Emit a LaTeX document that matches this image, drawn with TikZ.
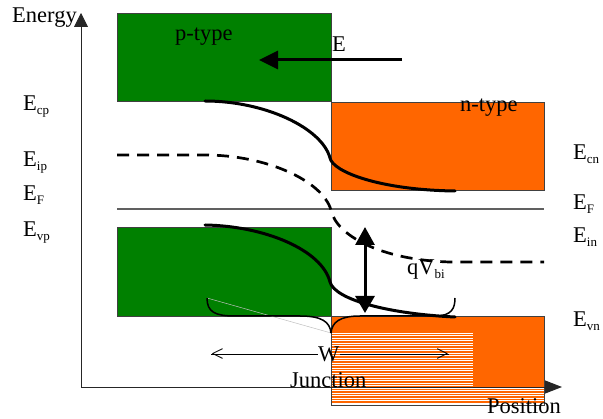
\documentclass[tikz,border=0pt]{standalone}
\usepackage{fontspec}
\setmainfont{Liberation Serif}
\usetikzlibrary{arrows.meta}
\definecolor{pgreen}{RGB}{0,128,0}
\definecolor{norange}{RGB}{255,102,0}
\definecolor{edgegray}{RGB}{64,64,64}
\definecolor{fermigray}{RGB}{96,96,96}
\newcommand{\lsub}[1]{\raisebox{-4pt}{\fontsize{13}{13}\selectfont #1}}
\begin{document}
\begin{tikzpicture}[x=1pt,y=-1pt,
  lbl/.style={inner sep=0pt, anchor=base west, font=\fontsize{22.5}{26}\selectfont},
  gbox/.style={fill=pgreen, draw=edgegray, line width=0.8pt},
  obox/.style={fill=norange, draw=edgegray, line width=0.8pt},
  band/.style={line width=3pt, line cap=round},
  intr/.style={line width=2.7pt, dash pattern=on 12pt off 8pt},
  bracecurve/.style={line width=1.5pt},
  axisline/.style={draw=black!85, line width=0.9pt},
  bigarrow/.style={line width=3pt},
  stripe/.style={norange, line width=1.3pt},
]
\useasboundingbox (0,0) rectangle (603,419);

% coordinates
\coordinate (origin) at (81,387);
\coordinate (ytip) at (81,13);
\coordinate (xtip) at (562,387);
\coordinate (efl) at (117,209);
\coordinate (efr) at (544,209);
\coordinate (eil) at (117,155);
\coordinate (eia) at (205,155);
\coordinate (eij) at (331,210);
\coordinate (eib) at (450,262);
\coordinate (eir) at (544,262);
\coordinate (eca) at (205,101);
\coordinate (ecj) at (330,158);
\coordinate (ecb) at (455,191);
\coordinate (eva) at (205,225);
\coordinate (evj) at (330,282);
\coordinate (evb) at (455,317);
\coordinate (bl) at (207,298);
\coordinate (bapex) at (331,333);
\coordinate (br) at (455,298);
\coordinate (efs) at (402,60);
\coordinate (efe) at (259,60);
\coordinate (qvt) at (365,227);
\coordinate (qvb) at (365,313);

% bands
\filldraw[gbox] (117,13) rectangle (331,101);
\filldraw[obox] (331,102) rectangle (544,190);
\filldraw[gbox] (117,227) rectangle (331,316);
\filldraw[obox] (331,316) rectangle (544,405);
% striped (half-rendered) part of the lower n-type band
\fill[white] (331.5,333) rectangle (473,404.6);
\fill[white] (473,387) rectangle (543.6,404.6);
\foreach \yy in {334.5,337,...,404} \draw[stripe] (331.5,\yy) -- (473,\yy);
\foreach \yy in {389.5,392,...,404} \draw[stripe] (473,\yy) -- (543.6,\yy);

% axes
\draw[axisline, -{Triangle[length=14pt,width=14pt]}] (origin) -- (ytip);
\draw[axisline, -{Triangle[length=17pt,width=13pt]}] (origin) -- (xtip);

% Fermi level
\draw[fermigray, line width=1.5pt] (efl) -- (efr);

% intrinsic level
\draw[intr] (eil) -- (eia) .. controls (265,155) and (322,180) .. (eij)
  .. controls (336,235) and (380,260) .. (eib) -- (eir);

% conduction and valence band edges
\draw[band] (eca) .. controls (265,101) and (322,128) .. (ecj)
  .. controls (333,172) and (380,190) .. (ecb);
\draw[band] (eva) .. controls (265,226) and (322,250) .. (evj)
  .. controls (335,300) and (390,314) .. (evb);

% depletion brackets
\draw[gray!50, line width=0.5pt] (bl) -- (bapex);
\draw[bracecurve] (bl) .. controls (207,312) and (215,316) .. (235,316) -- (300,316)
  .. controls (322,316) and (330,322) .. (bapex);
\draw[bracecurve] (bapex) .. controls (332,322) and (340,316) .. (360,316) -- (435,316)
  .. controls (452,316) and (455,308) .. (br);

% field arrow and built-in potential
\draw[bigarrow, -{Triangle[length=19pt,width=18pt]}] (efs) -- (efe);
\draw[bigarrow, {Triangle[length=18pt,width=19pt]}-{Triangle[length=17pt,width=19pt]}] (qvt) -- (qvb);

% labels
\node[lbl] (energy) at (12,23) {Energy};
\node[lbl] (ptype) at (175,41) {p-type};
\node[lbl] (ntype) at (460,112) {n-type};
\node[lbl] (elabel) at (332,52) {E};
\node[lbl] (ecp) at (23,111) {E\lsub{cp}};
\node[lbl] (eip) at (23,167) {E\lsub{ip}};
\node[lbl] (efleft) at (23,201) {E\lsub{F}};
\node[lbl] (evp) at (23,237) {E\lsub{vp}};
\node[lbl] (ecn) at (573,160) {E\lsub{cn}};
\node[lbl] (efright) at (573,210) {E\lsub{F}};
\node[lbl] (ein) at (573,243) {E\lsub{in}};
\node[lbl] (evn) at (573,327) {E\lsub{vn}};
\node[lbl] (qvbi) at (407,275) {qV\lsub{bi}};
\node[lbl] (wl) at (211,362) {<};
\node[lbl] (w) at (318,362) {W};
\node[lbl] (wr) at (436,362) {>};
\draw[line width=0.8pt] (wl.west |- w.west) -- (w.west);
\draw[line width=0.8pt] (w.east) -- (wr.east |- w.east);
\node[lbl] (junction) at (290,388) {Junction};
\node[lbl] (position) at (487,414) {Position};
\end{tikzpicture}
\end{document}
